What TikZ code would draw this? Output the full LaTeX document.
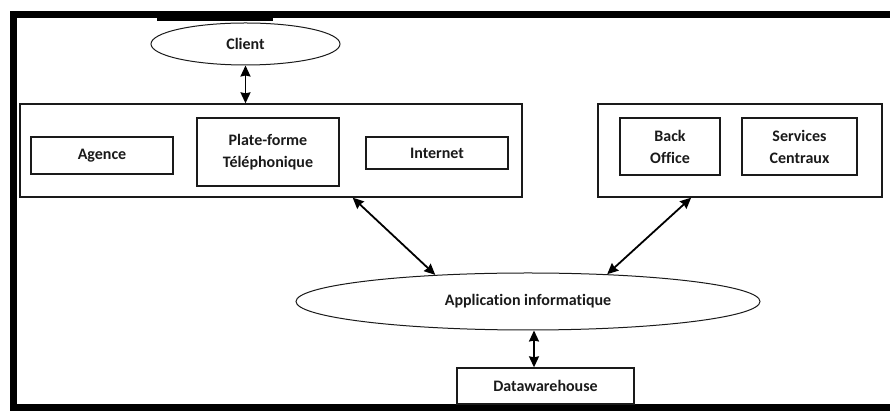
\documentclass[tikz,border=0pt]{standalone}
\usepackage{fontspec}
\setmainfont{Carlito}[Ligatures=NoCommon]
\usetikzlibrary{arrows.meta,shapes.geometric}
\definecolor{boxink}{HTML}{1A1A1A}

\begin{document}
\begin{tikzpicture}[
  x=1pt,
  y=1pt,
  every node/.style={font=\bfseries\fontsize{16}{22}\selectfont, align=center, boxink},
  frame/.style={black, line width=7pt},
  group/.style={draw=boxink, line width=1.3pt, inner sep=0pt},
  unit/.style={draw=boxink, line width=1.3pt, inner sep=0pt},
  oval/.style={ellipse, draw=boxink, line width=1pt, inner sep=0pt},
  link/.style={black, line width=1.8pt, {Stealth[length=11pt,width=10pt,inset=1pt]}-{Stealth[length=11pt,width=10pt,inset=1pt]}}
]
  \useasboundingbox (0,0) rectangle (890,411);

  % ---- outer frame ----
  \draw[frame] (900,396) -- (13,396) -- (13,3) -- (900,3);
  \fill[black] (157,390) rectangle (273,396);

  % ---- client ----
  \node[oval, minimum width=189, minimum height=42] (client) at (245.5,367) {Client};

  % ---- front office group ----
  \node[group, minimum width=502, minimum height=93] (front) at (271,260.5) {};
  \node[unit, minimum width=142, minimum height=37] (agence) at (102,255.5) {Agence};
  \node[unit, minimum width=142, minimum height=68] (plate) at (268,259) {Plate-forme\\T\'el\'ephonique};
  \node[unit, minimum width=142, minimum height=32] (internet) at (437,258) {Internet};

  % ---- back office group ----
  \node[group, minimum width=284, minimum height=93] (back) at (740,260.5) {};
  \node[unit, minimum width=100, minimum height=57] (office) at (670,264.5) {Back\\Office};
  \node[unit, minimum width=115, minimum height=57] (services) at (799.5,264.5) {Services\\Centraux};

  % ---- application and warehouse ----
  \node[oval, minimum width=464, minimum height=57] (app) at (528,109.5) {Application informatique};
  \node[unit, minimum width=177, minimum height=36] (dw) at (545.5,25) {Datawarehouse};

  % ---- connectors ----
  \draw[link] (client.south) -- (client.south |- front.north);
  \draw[link] (front.-30) -- (app.164);
  \draw[link] (back.-136) -- (app.19);
  \draw[link] ([xshift=6pt]app.south) -- ([xshift=-11.5pt]dw.north);
\end{tikzpicture}
\end{document}
